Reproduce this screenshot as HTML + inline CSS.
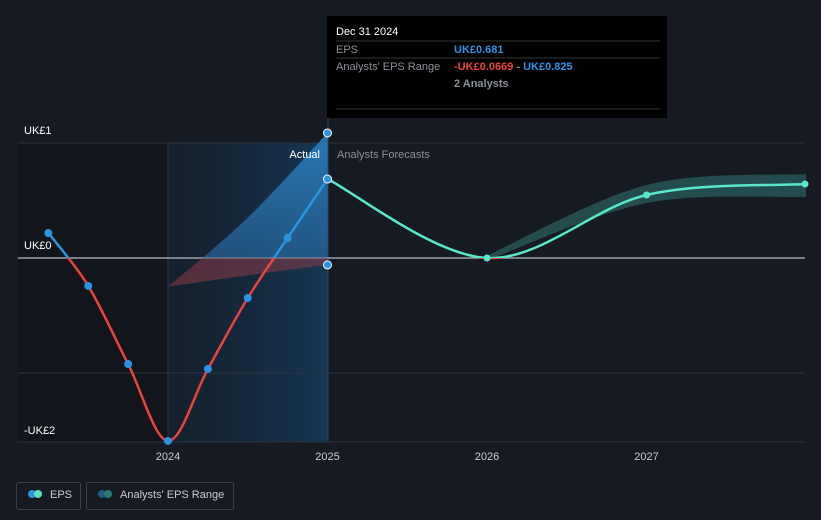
<!DOCTYPE html>
<html><head><meta charset="utf-8"><style>
body{margin:0;background:#151a23;font-family:"Liberation Sans",sans-serif;}
svg{display:block}
</style></head><body>
<svg id="c" width="821" height="520">
<defs>
<linearGradient id="pastG" x1="0" x2="1" y1="0" y2="0"><stop offset="0" stop-color="#14283b" stop-opacity="0.4"/><stop offset="1" stop-color="#173a58" stop-opacity="0.9"/></linearGradient>
<linearGradient id="bandUp" x1="0" x2="0" y1="0" y2="1"><stop offset="0" stop-color="#2a7fc0" stop-opacity="0.9"/><stop offset="1" stop-color="#2a6ea8" stop-opacity="0.5"/></linearGradient>
<clipPath id="above"><rect x="0" y="0" width="821" height="258"/></clipPath>
<clipPath id="below"><rect x="0" y="258" width="821" height="262"/></clipPath>
</defs>
<rect x="18" y="143" width="150" height="299" fill="#12151c"/>
<rect x="168" y="143" width="160" height="299" fill="url(#pastG)"/>
<line x1="168" y1="143" x2="168" y2="442" stroke="#1f3a55"/>
<line x1="328" y1="110" x2="328" y2="442" stroke="#2b4a66"/>
<g id="grid"></g>
<g id="bands"></g>
<g id="lines"></g>
<g id="pts"></g>
<text x="320" y="158" fill="#fff" font-size="11" text-anchor="end">Actual</text>
<text x="337" y="158" fill="#8a8f98" font-size="11">Analysts Forecasts</text>
<g>
<rect x="327" y="16" width="340" height="102" fill="#000"/>
<text x="336" y="35" fill="#fff" font-size="11">Dec 31 2024</text>
<line x1="336" y1="41" x2="660" y2="41" stroke="#333"/>
<text x="336" y="53" fill="#8a8f98" font-size="11">EPS</text>
<text x="454" y="53" fill="#2b94e0" font-size="11" font-weight="bold">UK£0.681</text>
<line x1="336" y1="58" x2="660" y2="58" stroke="#333"/>
<text x="336" y="70" fill="#8a8f98" font-size="11">Analysts' EPS Range</text>
<text x="454" y="70" font-size="11" font-weight="bold"><tspan fill="#e8443f">-UK£0.0669</tspan><tspan fill="#8a8f98"> - </tspan><tspan fill="#2b94e0">UK£0.825</tspan></text>
<text x="454" y="87" fill="#8a8f98" font-size="11" font-weight="bold">2 Analysts</text>
<line x1="336" y1="109" x2="660" y2="109" stroke="#333"/>
</g>
<g>
<rect x="16.5" y="482.5" width="64" height="27" rx="2" fill="none" stroke="#3a3f48"/>
<circle cx="32" cy="494" r="4" fill="#2b94e0"/><circle cx="38" cy="494" r="4" fill="#58e0c8"/>
<text x="50" y="498" fill="#c8ccd2" font-size="11">EPS</text>
<rect x="86.5" y="482.5" width="147" height="27" rx="2" fill="none" stroke="#3a3f48"/>
<circle cx="102" cy="494" r="4" fill="#1f5a88"/><circle cx="108" cy="494" r="4" fill="#2e7a78"/>
<text x="120" y="498" fill="#c8ccd2" font-size="11">Analysts' EPS Range</text>
</g>
</svg>
<script>
const yTicks=[1,0,-1];
const yTickLabels=["UK£1","UK£0","-UK£2"];
const xTicks=[2024,2025,2026,2027];
const actualX=[2023.25,2023.5,2023.75,2024,2024.25,2024.5,2024.75,2025];
const actualEPS=[0.217,-0.243,-0.922,-1.591,-0.965,-0.348,0.174,0.687];
const fcX=[2025,2026,2027,2028];
const fcEPS=[0.687,0,0.548,0.643];
const pastRangeX=[2024,2024.5,2025];
const pastLow=[-0.25,-0.15,-0.06];
const pastHigh=[-0.25,0.35,1.087];
const fcRangeX=[2026,2027,2028];
const fcLow=[-0.02,0.478,0.53];
const fcHigh=[0.02,0.635,0.73];
const X=v=>168+(v-2024)*159.5;
const Y=v=>258-v*115;
const NS="http://www.w3.org/2000/svg";
function mk(t,a,p){const e=document.createElementNS(NS,t);for(const k in a)e.setAttribute(k,a[k]);p.appendChild(e);return e;}
function curve(xs,ys){const p=xs.map((x,i)=>[X(x),Y(ys[i])]);let d="M"+p[0];for(let i=0;i<p.length-1;i++){const p0=p[Math.max(i-1,0)],a=p[i],b=p[i+1],p3=p[Math.min(i+2,p.length-1)];const c1=[a[0]+(b[0]-p0[0])/6,a[1]+(b[1]-p0[1])/6],c2=[b[0]-(p3[0]-a[0])/6,b[1]-(p3[1]-a[1])/6];d+=` C${c1} ${c2} ${b}`;}return d;}
function band(xs,lo,hi){const up=curve(xs,hi);const rx=xs.slice().reverse(),rl=lo.slice().reverse();return up+" L"+curve(rx,rl).slice(1)+"Z";}
const grid=document.getElementById('grid');
yTicks.forEach((t,i)=>{
const l=mk('line',{x1:18,x2:805,y1:Y(t),y2:Y(t),stroke:t===0?'#9aa0a8':'#2c3440','stroke-width':t===0?1.5:1},grid);


});
const bl=mk('line',{x1:18,x2:805,y1:442,y2:442,stroke:'#2c3440'},grid);


const lblY=[134,249,434];
yTickLabels.forEach((s,i)=>{const t=mk('text',{x:24,y:lblY[i],fill:'#fff','font-size':11},grid);t.textContent=s;

});
xTicks.forEach(v=>{const t=mk('text',{x:X(v),y:460,fill:'#c8ccd2','font-size':11,'text-anchor':'middle'},grid);t.textContent=v;

});
const bands=document.getElementById('bands');
const bp=band(pastRangeX,pastLow,pastHigh);
const b1=mk('path',{d:bp,fill:'url(#bandUp)','clip-path':'url(#above)'},bands);


const b2=mk('path',{d:bp,fill:'#8a3a48',opacity:0.55,'clip-path':'url(#below)'},bands);


const b3=mk('path',{d:band(fcRangeX,fcLow,fcHigh),fill:'#2e6e6a',opacity:0.6},bands);


const lines=document.getElementById('lines');
const ad=curve(actualX,actualEPS);
const a1=mk('path',{d:ad,fill:'none',stroke:'#2b94e0','stroke-width':2.5,'clip-path':'url(#above)'},lines);


const a2=mk('path',{d:ad,fill:'none',stroke:'#e8443f','stroke-width':2.5,'clip-path':'url(#below)'},lines);


const fd=curve(fcX,fcEPS);
const f1=mk('path',{d:fd,fill:'none',stroke:'#58e8c8','stroke-width':2.5,'clip-path':'url(#above)'},lines);


const f2=mk('path',{d:fd,fill:'none',stroke:'#e8443f','stroke-width':2.5,'clip-path':'url(#below)'},lines);


const pts=document.getElementById('pts');
actualX.forEach((x,i)=>{const last=i===actualX.length-1;const c=mk('circle',{cx:X(x),cy:Y(actualEPS[i]),r:4,fill:'#2b94e0',stroke:last?'#fff':'none','stroke-width':1},pts);

});
[[2025,pastHigh[2]],[2025,pastLow[2]]].forEach(p=>{const c=mk('circle',{cx:X(p[0]),cy:Y(p[1]),r:4,fill:'#2b94e0',stroke:'#fff','stroke-width':1},pts);

});
fcX.slice(1).forEach((x,i)=>{const c=mk('circle',{cx:Math.min(X(x),805),cy:Y(fcEPS[i+1]),r:3.5,fill:'#58e8c8'},pts);

});
</script>
</body></html>
